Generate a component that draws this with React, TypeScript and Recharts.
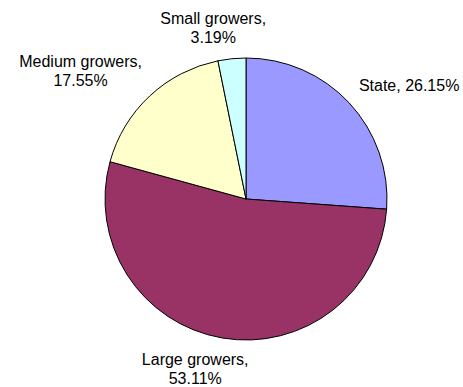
import React from "react";
import { PieChart, Pie, Cell } from "recharts";

const growers = ["State", "Large growers", "Medium growers", "Small growers"];
const shares = [26.15, 53.11, 17.55, 3.19];
const colors = ["#9999FF", "#993366", "#FFFFCC", "#CCFFFF"];

const CX = 246;
const CY = 199;
const RADIUS = 141;
const RAD = Math.PI / 180;

// small manual shifts so labels sit where Excel put them
const nudges = [
  [7, 0],
  [-14, -4],
  [-14, 0],
  [-11, 4],
];

const data = growers.map((name, i) => ({ name, value: shares[i] }));

const renderLabel = (props: any) => {
  const { midAngle, index, name, value } = props;
  const lines =
    index === 0
      ? [`${name}, ${value.toFixed(2)}%`]
      : [`${name},`, `${value.toFixed(2)}%`];
  const longest = Math.max(...lines.map((l) => l.length));
  const w = longest * 8.5;
  const h = lines.length * 18;
  const cos = Math.cos(-midAngle * RAD);
  const sin = Math.sin(-midAngle * RAD);
  const px = CX + (RADIUS + 17) * cos;
  const py = CY + (RADIUS + 17) * sin;
  const x = px + (w / 2) * cos + nudges[index][0];
  const y = py + (h / 2) * sin + nudges[index][1];
  const top = y - ((lines.length - 1) * 19) / 2;
  return (
    <text
      key={`lbl-${index}`}
      x={x}
      y={top}
      textAnchor="middle"
      dominantBaseline="central"
      fill="#000"
      fontSize={16}
      fontFamily="'Liberation Sans', Arial, sans-serif"
    >
      {lines.map((l, j) => (
        <tspan key={j} x={x} y={top + j * 19}>
          {l}
        </tspan>
      ))}
    </text>
  );
};

const App: React.FC = () => {
  return (
    <div style={{ position: "absolute", left: 0, top: 0, background: "#fff" }}>
      <PieChart
        width={463}
        height={387}
        margin={{ top: 0, right: 0, bottom: 0, left: 0 }}
      >
        <Pie
          data={data}
          dataKey="value"
          nameKey="name"
          cx={CX}
          cy={CY}
          outerRadius={RADIUS}
          startAngle={90}
          endAngle={-270}
          stroke="#000"
          strokeWidth={1}
          label={renderLabel}
          labelLine={false}
          isAnimationActive={false}
        >
          {data.map((d, i) => (
            <Cell key={d.name} fill={colors[i]} />
          ))}
        </Pie>
      </PieChart>
    </div>
  );
};

export default App;
